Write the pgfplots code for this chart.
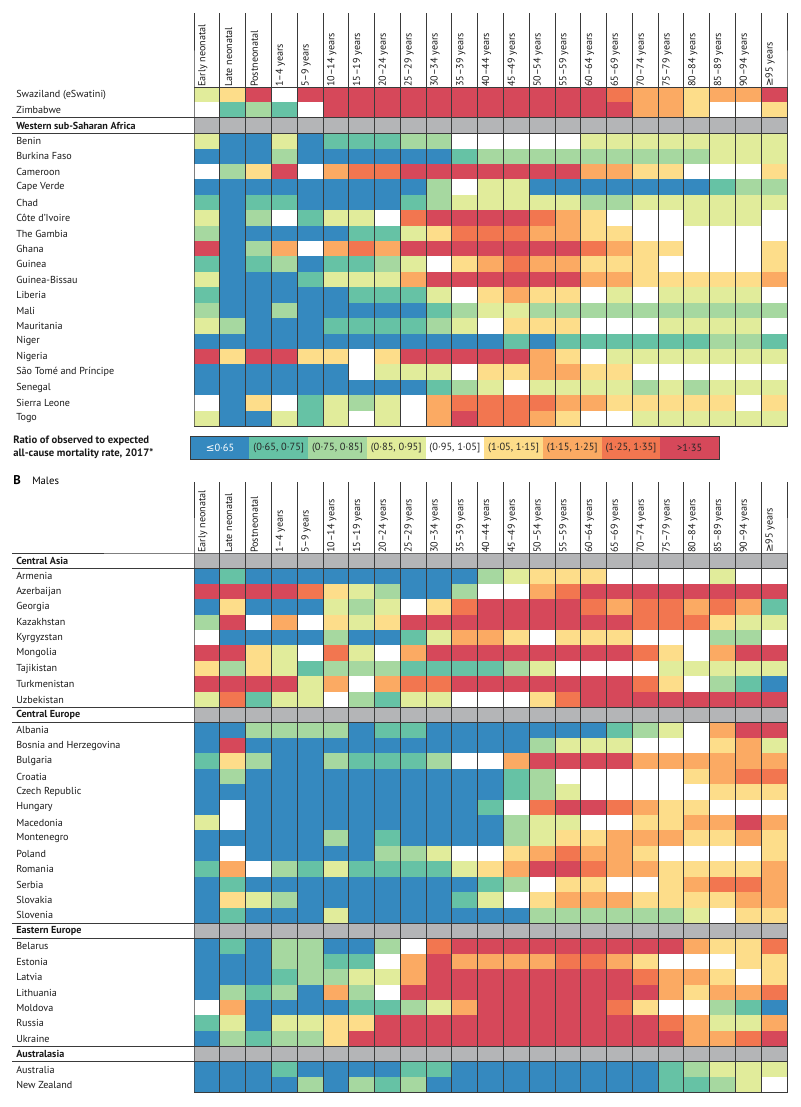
\documentclass[border=0pt]{standalone}
\usepackage{pgfplots}
\pgfplotsset{compat=1.18}
\usepackage{pgfplotstable}
\usepackage{fontspec}
\setmainfont{PT Sans}
\newfontfamily\symf{DejaVu Sans}

\definecolor{kg}{HTML}{B4B5B7}
\definecolor{k1}{HTML}{3589BF}
\definecolor{k2}{HTML}{66C2A5}
\definecolor{k3}{HTML}{A6D8A0}
\definecolor{k4}{HTML}{E1EC9B}
\definecolor{k5}{HTML}{FFFFFF}
\definecolor{k6}{HTML}{FDDD8A}
\definecolor{k7}{HTML}{FBAA63}
\definecolor{k8}{HTML}{F27650}
\definecolor{k9}{HTML}{D6485A}
\definecolor{sepc}{HTML}{3A3A3A}

\newcommand\lab{\fontsize{7.6pt}{9pt}\selectfont}
\tikzset{sep/.style={draw=sepc, line width=0.6pt}}

\pgfdeclareplotmark{cell}{\pgfpathrectangle{\pgfqpoint{-9.78pt}{-5.89pt}}{\pgfqpoint{19.56pt}{11.78pt}}\pgfusepathqfill}

\pgfplotsset{colormap={cat}{rgb255(0)=(180,181,183) rgb255(1)=(53,137,191) rgb255(2)=(102,194,165) rgb255(3)=(166,216,160) rgb255(4)=(225,236,155) rgb255(5)=(255,255,255) rgb255(6)=(253,221,138) rgb255(7)=(251,170,99) rgb255(8)=(242,118,80) rgb255(9)=(214,72,90) rgb255(10)=(214,72,90)}}

\pgfplotstableread{
c0 c1 c2 c3 c4 c5 c6 c7 c8 c9 c10 c11 c12 c13 c14 c15 c16 c17 c18 c19 c20 c21 c22
4 6 9 5 9 9 9 9 9 9 9 9 9 9 9 9 8 7 7 6 7 7 9
5 2 3 2 5 9 9 9 9 9 9 9 9 9 9 9 9 7 7 6 5 5 6
0 0 0 0 0 0 0 0 0 0 0 0 0 0 0 0 0 0 0 0 0 0 0
4 1 1 4 1 2 2 2 3 3 5 5 5 5 5 4 4 4 4 4 4 4 4
1 1 1 3 1 1 1 1 1 1 2 3 3 3 3 3 3 3 3 3 4 4 4
5 3 6 9 5 7 8 8 9 9 9 9 9 9 9 7 7 6 6 5 5 5 6
1 1 1 1 1 1 1 1 1 3 5 4 4 1 1 1 1 1 1 1 2 3 3
2 1 2 2 1 1 1 1 2 3 4 4 4 4 4 3 3 4 4 4 4 4 4
4 1 3 5 2 4 4 5 8 9 9 9 9 8 7 6 5 5 5 4 4 4 5
3 1 1 1 1 1 2 2 4 6 8 8 8 7 7 6 6 5 5 5 5 5 5
9 1 3 7 5 7 8 7 9 9 9 9 9 9 9 8 7 6 6 5 5 5 6
2 1 2 3 1 2 2 3 4 5 6 7 8 7 7 6 6 6 5 5 5 5 6
4 1 1 1 2 4 4 4 7 9 9 9 9 9 9 7 7 6 6 6 6 6 7
2 1 1 1 1 1 2 2 2 4 5 6 7 6 6 5 4 5 4 4 4 4 5
3 1 1 3 1 1 1 1 1 2 3 4 4 3 3 3 3 3 3 3 3 3 3
4 3 1 1 1 2 2 2 2 3 4 5 6 6 6 5 5 5 4 4 4 4 5
1 1 1 1 1 1 1 1 1 1 1 1 2 1 2 2 2 2 2 2 3 3 2
9 6 9 9 6 6 5 6 9 9 9 9 9 7 6 5 4 4 4 4 4 4 4
1 1 1 1 1 1 5 4 4 4 5 6 6 7 7 6 6 5 5 5 5 5 5
1 1 1 1 1 1 1 1 1 2 3 4 5 4 4 4 4 3 4 3 4 4 4
5 1 6 5 2 4 3 4 5 7 8 8 8 8 7 7 6 6 6 6 6 5 6
4 1 1 4 2 4 5 4 5 7 9 8 8 7 6 5 5 4 4 4 4 4 4
}\tabA

\pgfplotstableread{
c0 c1 c2 c3 c4 c5 c6 c7 c8 c9 c10 c11 c12 c13 c14 c15 c16 c17 c18 c19 c20 c21 c22
0 0 0 0 0 0 0 0 0 0 0 0 0 0 0 0 0 0 0 0 0 0 0
1 2 1 1 1 1 1 1 1 1 1 3 4 6 6 6 5 5 5 5 4 5 5
9 9 9 9 8 6 4 3 1 1 3 5 5 7 8 9 9 9 9 9 9 9 9
1 6 1 1 1 4 3 4 5 6 8 9 9 9 9 8 7 8 8 7 8 7 2
3 9 5 7 5 6 4 6 9 9 9 9 9 9 9 9 9 8 8 8 6 4 4
5 1 1 1 1 3 1 1 2 4 7 7 6 5 6 6 6 5 5 5 3 3 5
9 9 6 4 5 8 4 5 7 9 9 9 9 9 9 9 9 8 6 5 7 9 9
6 3 6 4 2 3 3 3 2 2 2 2 3 4 5 5 5 5 4 4 4 4 4
9 9 9 9 4 7 5 7 8 8 9 9 9 9 9 9 9 8 6 5 3 2 1
4 8 2 4 4 5 3 2 4 4 5 5 5 6 8 9 9 9 9 9 9 9 9
0 0 0 0 0 0 0 0 0 0 0 0 0 0 0 0 0 0 0 0 0 0 0
1 1 3 3 3 3 1 2 2 1 1 1 1 1 1 1 2 3 4 5 7 9 9
1 9 1 1 1 1 1 1 1 1 1 1 1 3 4 4 4 5 5 5 6 7 4
2 6 3 1 1 3 2 2 2 3 5 5 7 9 9 9 9 7 7 7 7 7 7
1 3 1 1 1 1 1 1 1 1 1 1 2 3 5 5 5 5 5 6 7 8 8
1 1 1 1 1 1 1 1 1 1 1 1 2 3 4 5 5 5 5 5 6 6 6
1 5 1 1 1 1 1 1 1 1 1 2 5 8 9 9 8 7 6 6 5 5 5
4 5 1 1 1 1 1 1 1 1 1 1 3 4 4 5 5 6 6 7 7 9 7
1 1 1 1 1 3 1 2 1 1 1 1 3 4 6 6 7 7 7 6 6 7 6
1 5 1 1 1 1 1 3 3 4 5 5 6 7 8 7 7 6 5 5 5 5 6
2 7 5 3 2 4 2 2 2 2 4 6 7 9 9 8 7 7 6 6 6 6 7
1 2 1 1 1 1 1 1 1 1 1 2 3 5 6 6 5 5 6 7 8 8 7
1 6 4 3 1 1 1 1 1 1 2 4 5 6 7 7 7 6 6 6 6 7 7
1 2 1 1 1 4 1 1 1 1 1 1 1 3 3 3 3 3 3 4 5 6 6
0 0 0 0 0 0 0 0 0 0 0 0 0 0 0 0 0 0 0 0 0 0 0
1 2 1 3 3 1 1 3 5 8 9 9 9 9 9 9 9 9 9 7 6 6 8
1 1 1 3 3 2 2 5 7 9 7 7 7 7 8 8 7 6 5 5 5 6 6
1 1 1 2 3 3 4 4 7 9 9 9 9 9 9 9 9 8 7 7 6 5 6
1 3 2 3 1 7 3 5 9 9 9 9 9 9 9 9 9 9 7 6 7 7 8
5 7 1 1 1 1 2 2 3 4 7 9 9 9 9 9 8 6 5 5 3 2 1
2 4 1 4 4 6 6 9 9 9 9 9 9 9 9 9 9 9 8 7 4 4 7
1 3 2 3 3 6 9 9 9 9 9 9 9 9 9 9 9 9 9 7 7 8 9
0 0 0 0 0 0 0 0 0 0 0 0 0 0 0 0 0 0 0 0 0 0 0
1 1 1 2 1 1 1 1 2 2 1 1 1 1 1 1 1 1 2 3 4 4 4
1 1 1 1 3 1 3 2 3 1 1 1 1 1 1 1 1 1 2 2 3 4 5
}\tabB

\pgfplotsset{
  heat/.style={
    scale only axis, width=444.75pt, xmin=-0.5, xmax=22.5, clip=false,
    colormap name=cat, colormap access=piecewise constant,
    point meta min=0, point meta max=10,
    axis line style={draw=sepc, line width=0.6pt},
    xtick={0,...,22},
    xticklabels={Early neonatal, Late neonatal, Postneonatal, 1–4 years, 5–9 years, 10–14 years, 15–19 years, 20–24 years, 25–29 years, 30–34 years, 35–39 years, 40–44 years, 45–49 years, 50–54 years, 55–59 years, 60–64 years, 65–69 years, 70–74 years, 75–79 years, 80–84 years, 85–89 years, 90–94 years, {{\symf ≥}95 years}},
    xticklabel pos=right,
    xticklabel style={rotate=90, anchor=west, inner sep=0pt, xshift=0pt, yshift=3pt, font=\lab, text=black!90},
    major tick length=0pt,
    yticklabel style={anchor=west, inner sep=0pt, xshift=-133.5pt, font=\lab, text=black!90},
  },
  over/.style={scale only axis, width=444.75pt, xmin=-0.5, xmax=22.5, clip=false, hide axis},
  cells/.style={scatter, only marks, mark=cell, point meta=explicit,
    scatter/use mapped color={fill=mapped color, draw=none}},
}

\begin{document}
\begin{tikzpicture}
\path[use as bounding box] (0pt,0pt) rectangle (600pt,-830.25pt);

% Panel A
\begin{axis}[heat, at={(145.5pt,-65.25pt)}, anchor=north west,
  height=254.4pt, ymin=-21.5, ymax=0.5,
  ytick={-21,...,0},
  yticklabels={Togo, Sierra Leone, Senegal, São Tomé and Príncipe, Nigeria, Niger, Mauritania, Mali, Liberia, Guinea-Bissau, Guinea, Ghana, The Gambia, Côte d’Ivoire, Chad, Cape Verde, Cameroon, Burkina Faso, Benin, \textbf{Western sub-Saharan Africa}, Zimbabwe, Swaziland (eSwatini)}]
\pgfplotsinvokeforeach{0,...,22}{
  \addplot[cells] table[x expr=#1, y expr=-\coordindex, meta expr=\thisrow{c#1}+0.5] {\tabA};
}
\end{axis}
\begin{axis}[over, at={(145.5pt,-65.25pt)}, anchor=north west,
  height=254.4pt, ymin=-21.5, ymax=0.5]
\pgfplotsinvokeforeach{-0.5,0.5,...,22.5}{
  \draw[sep] (axis cs:#1,-21.5) -- (axis cs:#1,0.5) -- ++(0pt,55.5pt);
}
\draw[sep] (axis cs:22.5,-1.5) -- (axis cs:-0.5,-1.5) -- ++(-136.5pt,0pt);
\draw[sep] (axis cs:22.5,-2.5) -- (axis cs:-0.5,-2.5) -- ++(-136.5pt,0pt);
\draw[sep] (axis cs:-0.5,0.5) -- (axis cs:22.5,0.5);
\draw[sep] (axis cs:-0.5,-21.5) -- (axis cs:22.5,-21.5);
\end{axis}

% Panel B
\begin{axis}[heat, at={(145.5pt,-414.75pt)}, anchor=north west,
  height=404.78pt, ymin=-34.5, ymax=0.5,
  ytick={-34,...,0},
  yticklabels={New Zealand, Australia, \textbf{Australasia}, Ukraine, Russia, Moldova, Lithuania, Latvia, Estonia, Belarus, \textbf{Eastern Europe}, Slovenia, Slovakia, Serbia, Romania, Poland, Montenegro, Macedonia, Hungary, Czech Republic, Croatia, Bulgaria, Bosnia and Herzegovina, Albania, \textbf{Central Europe}, Uzbekistan, Turkmenistan, Tajikistan, Mongolia, Kyrgyzstan, Kazakhstan, Georgia, Azerbaijan, Armenia, \textbf{Central Asia}}]
\pgfplotsinvokeforeach{0,...,22}{
  \addplot[cells] table[x expr=#1, y expr=-\coordindex, meta expr=\thisrow{c#1}+0.5] {\tabB};
}
\end{axis}
\begin{axis}[over, at={(145.5pt,-414.75pt)}, anchor=north west,
  height=404.78pt, ymin=-34.5, ymax=0.5]
\pgfplotsinvokeforeach{-0.5,0.5,...,22.5}{
  \draw[sep] (axis cs:#1,-34.5) -- (axis cs:#1,0.5) -- ++(0pt,53.25pt);
}
\pgfplotsinvokeforeach{0.5,-0.5,-9.5,-10.5,-23.5,-24.5,-31.5,-32.5}{
  \draw[sep] (axis cs:22.5,#1) -- (axis cs:-0.5,#1) -- ++(-136.5pt,0pt);
}
\draw[sep] (axis cs:-0.5,-34.5) -- (axis cs:22.5,-34.5);
\end{axis}

% Legend and titles
\begin{scope}[x=0.75pt, y=-0.75pt]
  \foreach \i/\c/\t/\tc in {0/k1/{{\symf ≤}0·65}/white, 1/k2/{(0·65, 0·75]}/black!85, 2/k3/{(0·75, 0·85]}/black!85, 3/k4/{(0·85, 0·95]}/black!85, 4/k5/{(0·95, 1·05]}/black!85, 5/k6/{(1·05, 1·15]}/black!85, 6/k7/{(1·15, 1·25]}/black!85, 7/k8/{(1·25, 1·35]}/black!85, 8/k9/{>1·35}/black!85}{
    \fill[\c] (190.7+\i*58.7,436) rectangle (190.7+\i*58.7+58.7,459);
    \node[font=\fontsize{7.8pt}{9pt}\selectfont, text=\tc, inner sep=0pt] at (190.7+\i*58.7+29.35,447.5) {\t};
  }
  \draw[sepc, line width=0.6pt] (190.7,436) rectangle (719,459);
  \node[anchor=west, inner sep=0pt, font=\fontsize{8pt}{10pt}\selectfont\bfseries, text=black!90, align=left] at (13,447) {Ratio of observed to expected\\all-cause mortality rate, 2017*};
  \node[anchor=west, inner sep=0pt, font=\fontsize{9.5pt}{11pt}\selectfont\bfseries] at (13,480) {B};
  \node[anchor=west, inner sep=0pt, font=\fontsize{8pt}{10pt}\selectfont] at (32,480.5) {Males};
\end{scope}
\end{tikzpicture}
\end{document}
